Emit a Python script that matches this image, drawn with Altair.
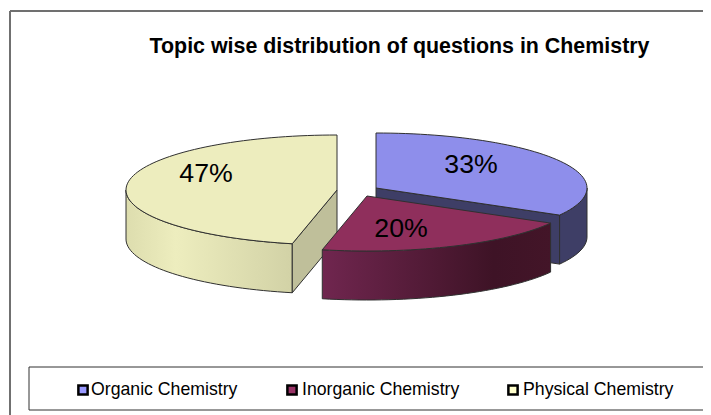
import math
import altair as alt
import pandas as pd

categories = ["Organic Chemistry", "Inorganic Chemistry", "Physical Chemistry"]
shares = [33.2, 20.2, 46.6]
labels = ["33%", "20%", "47%"]
title_text = "Topic wise distribution of questions in Chemistry"

# layout (image pixels)
RX, RY, DEPTH = 211, 55, 49
CENTERS = {0: (376, 188), 1: (367, 196), 2: (337, 190)}
LABEL_POS = [(471, 165), (401, 229), (206, 174)]
LEGEND_SWATCH_X = [83, 292, 513]
LEGEND_TEXT_X = [91, 302, 523]
LEGEND_Y = 390
FONT = "Liberation Sans"

xs = alt.Scale(domain=[8, 703], range=[0, 695], nice=False, zero=False)
ys = alt.Scale(domain=[8, 415], range=[0, 407], nice=False, zero=False)
X = lambda f="x": alt.X(f"{f}:Q", scale=xs, axis=None)
Y = lambda f="y": alt.Y(f"{f}:Q", scale=ys, axis=None)

bounds = []
a = 0.0
for s in shares:
    bounds.append((a, a + s * 3.6))
    a += s * 3.6


def pt(i, t, dz=0):
    cx, cy = CENTERS[i]
    r = math.radians(t)
    return (cx + RX * math.sin(r), cy - RY * math.cos(r) + dz)


def arc(i, t0, t1, dz=0):
    n = max(2, int(abs(t1 - t0) / 2))
    return [pt(i, t0 + (t1 - t0) * k / n, dz) for k in range(n + 1)]


def poly(points, fill, stroke="#303030", sw=1):
    pts = list(points) + [points[0]]
    df = pd.DataFrame({"x": [p[0] for p in pts], "y": [p[1] for p in pts], "o": range(len(pts))})
    return alt.Chart(df).mark_line(fill=fill, stroke=stroke, strokeWidth=sw, strokeJoin="round", clip=False).encode(
        x=X(), y=Y(), order="o:Q")


def grad(*stops):
    return {"gradient": "linear", "x1": 0, "x2": 1, "y1": 0, "y2": 0,
            "stops": [{"offset": o, "color": c} for o, c in stops]}


def top(i):
    return [CENTERS[i]] + arc(i, *bounds[i])


def outer(i, t0, t1):
    return arc(i, t0, t1) + arc(i, t1, t0, DEPTH)


def cut(i, t):
    c = CENTERS[i]
    p = pt(i, t)
    return [c, p, (p[0], p[1] + DEPTH), (c[0], c[1] + DEPTH)]


layers = []
# frame
frame = pd.DataFrame({"x": [10, 10], "x2": [703, 10], "y": [11, 11], "y2": [11, 415]})
layers.append(alt.Chart(frame).mark_rule(color="#707070", strokeWidth=2).encode(
    x=X(), x2="x2:Q", y=Y(), y2="y2:Q"))

# Physical
layers.append(poly(outer(2, bounds[2][0], 270),
                   grad((0, "#DDDDAE"), (0.3, "#EDEDBE"), (1, "#D2D2A6"))))
layers.append(poly(cut(2, bounds[2][0]), "#BFBF9A"))
layers.append(poly(top(2), "#EDEDBE"))
# Organic
layers.append(poly(cut(0, bounds[0][1]), "#3E3E66"))
layers.append(poly(outer(0, 90, bounds[0][1]), "#3E3E66"))
layers.append(poly(top(0), "#8E8EEB"))
# Inorganic
layers.append(poly(outer(1, *bounds[1]),
                   grad((0, "#70264F"), (0.75, "#3E1326"), (1, "#431528"))))
layers.append(poly(top(1), "#8F2F5C"))

# percent labels
lab = pd.DataFrame({"x": [p[0] for p in LABEL_POS], "y": [p[1] for p in LABEL_POS], "t": labels})
layers.append(alt.Chart(lab).mark_text(font=FONT, fontSize=26.7, color="black", baseline="middle", align="center").encode(
    x=X(), y=Y(), text="t:N"))

# title
tdf = pd.DataFrame({"x": [399.5], "y": [47], "t": [title_text]})
layers.append(alt.Chart(tdf).mark_text(font=FONT, fontSize=21.4, fontWeight="bold", color="black", baseline="middle", align="center").encode(
    x=X(), y=Y(), text="t:N"))

# legend box
box = pd.DataFrame({"x": [29], "x2": [720], "y": [367], "y2": [410]})
layers.append(alt.Chart(box).mark_rect(fill="white", stroke="#303030", strokeWidth=1, clip=True).encode(
    x=X(), x2="x2:Q", y=Y(), y2="y2:Q"))

leg = pd.DataFrame({"sx": LEGEND_SWATCH_X, "tx": LEGEND_TEXT_X, "y": [LEGEND_Y] * 3, "t": categories,
                    "c": ["#9999FF", "#993366", "#FFFFCC"]})
layers.append(alt.Chart(leg).mark_point(shape="square", size=85, filled=True, stroke="black", strokeWidth=2.5, opacity=1).encode(
    x=X("sx"), y=Y(), fill=alt.Fill("c:N", scale=None)))
layers.append(alt.Chart(leg).mark_text(font=FONT, fontSize=17.7, color="black", baseline="middle", align="left").encode(
    x=X("tx"), y=Y(), text="t:N"))

chart = alt.layer(*layers).properties(
    width=695, height=407, padding=0, background="white",
    autosize=alt.AutoSizeParams(type="none"),
).configure_view(stroke=None)

chart.save("out.html", embed_options={"renderer": "svg", "actions": False})
